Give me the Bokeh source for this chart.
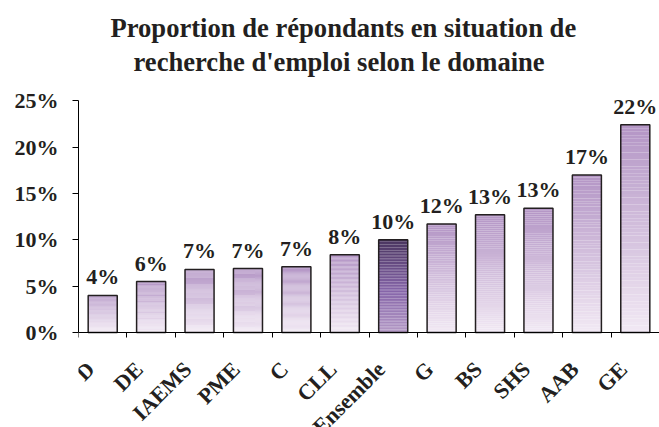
import math
from bokeh.plotting import figure
from bokeh.models import Range1d, FixedTicker, PrintfTickFormatter, LabelSet, ColumnDataSource, Title
from bokeh.embed import file_html
from bokeh.resources import INLINE

# ---- data ----
categories = ["D", "DE", "IAEMS", "PME", "C", "CLL", "Ensemble", "G", "BS", "SHS", "AAB", "GE"]
values = [4.0, 5.5, 6.8, 6.9, 7.1, 8.4, 10.0, 11.7, 12.7, 13.4, 17.0, 22.4]
value_labels = ["4%", "6%", "7%", "7%", "7%", "8%", "10%", "12%", "13%", "13%", "17%", "22%"]
highlight = "Ensemble"
y_ticks = [0, 5, 10, 15, 20, 25]

title_line1 = "Proportion de répondants en situation de"
title_line2 = "recherche d'emploi selon le domaine"

FONT = "Liberation Serif"
INK = "#231f20"

# gradient stops (t=0 bottom, t=1 top)
normal_stops = [(0.0, (242, 233, 244)), (1.0, (179, 149, 197))]
highlight_stops = [(0.0, (180, 154, 198)), (0.45, (133, 100, 168)), (1.0, (74, 53, 96))]


def grad(stops, t):
    for (t0, c0), (t1, c1) in zip(stops[:-1], stops[1:]):
        if t <= t1:
            f = (t - t0) / (t1 - t0) if t1 > t0 else 0
            c = tuple(int(round(a + (b - a) * f)) for a, b in zip(c0, c1))
            return "#%02x%02x%02x" % c
    c = stops[-1][1]
    return "#%02x%02x%02x" % c


n = len(categories)
x_centers = [i + 0.5 for i in range(n)]
bar_w = 0.6

p = figure(width=659, height=427, output_backend="svg", toolbar_location=None,
           x_range=Range1d(0, n), y_range=Range1d(-10.25, 26),
           min_border_left=78, min_border_right=0, min_border_top=91, min_border_bottom=0)
p.title = None
p.outline_line_color = None
p.background_fill_color = "white"
p.border_fill_color = "white"
p.xgrid.visible = False
p.ygrid.visible = False

# gradient bars
N = 60
L, R, B, T, C = [], [], [], [], []
for cat, xc, v in zip(categories, x_centers, values):
    stops = highlight_stops if cat == highlight else normal_stops
    for k in range(N):
        L.append(xc - bar_w / 2)
        R.append(xc + bar_w / 2)
        B.append(v * k / N)
        T.append(v * (k + 1) / N)
        C.append(grad(stops, (k + 0.5) / N))
p.quad(left=L, right=R, bottom=B, top=T, fill_color=C, line_color=None)

src = ColumnDataSource(dict(x=x_centers, top=values, lab=value_labels, cat=categories, zero=[0] * n))
p.vbar(x="x", top="top", width=bar_w, source=src, fill_color=None, line_color=INK, line_width=1.5)

# value labels
p.add_layout(LabelSet(x="x", y="top", text="lab", source=src, y_offset=11,
                      text_align="center", text_baseline="alphabetic",
                      text_font=FONT, text_font_style="bold", text_font_size="22px",
                      text_color=INK))

# category labels (rotated)
p.add_layout(LabelSet(x="x", y="zero", text="cat", source=src, x_offset=-12, y_offset=-33,
                      angle=math.pi / 4, text_align="right", text_baseline="middle",
                      text_font=FONT, text_font_style="bold", text_font_size="22px",
                      text_color=INK))

# axes
xa = p.xaxis[0]
xa.fixed_location = 0
xa.ticker = FixedTicker(ticks=list(range(n + 1)))
xa.major_label_overrides = {i: "" for i in range(n + 1)}
xa.major_tick_out = 5
xa.major_tick_in = 0
xa.minor_tick_line_color = None
xa.axis_line_color = "black"
xa.major_tick_line_color = "black"

ya = p.yaxis[0]
ya.bounds = (0, 25)
ya.ticker = FixedTicker(ticks=y_ticks)
ya.formatter = PrintfTickFormatter(format="%d%%")
ya.major_tick_out = 6
ya.major_tick_in = 0
ya.minor_tick_line_color = None
ya.axis_line_color = "black"
ya.major_tick_line_color = "black"
ya.major_label_standoff = 14
ya.major_label_text_font = FONT
ya.major_label_text_font_style = "bold"
ya.major_label_text_font_size = "22px"
ya.major_label_text_color = INK

# title (two lines) with a spacer between title and plot area
spacer = Title(text=" ", align="left", text_font=FONT, text_font_size="10px",
               text_color="white", standoff=1)
t2 = Title(text=title_line2, align="left", text_font=FONT, text_font_style="bold",
           text_font_size="26.6px", text_color=INK, offset=55, standoff=2)
t1 = Title(text=title_line1, align="left", text_font=FONT, text_font_style="bold",
           text_font_size="26.6px", text_color=INK, offset=32, standoff=1)
p.add_layout(spacer, "above")
p.add_layout(t2, "above")
p.add_layout(t1, "above")

open("out.html", "w").write(file_html(p, INLINE))
